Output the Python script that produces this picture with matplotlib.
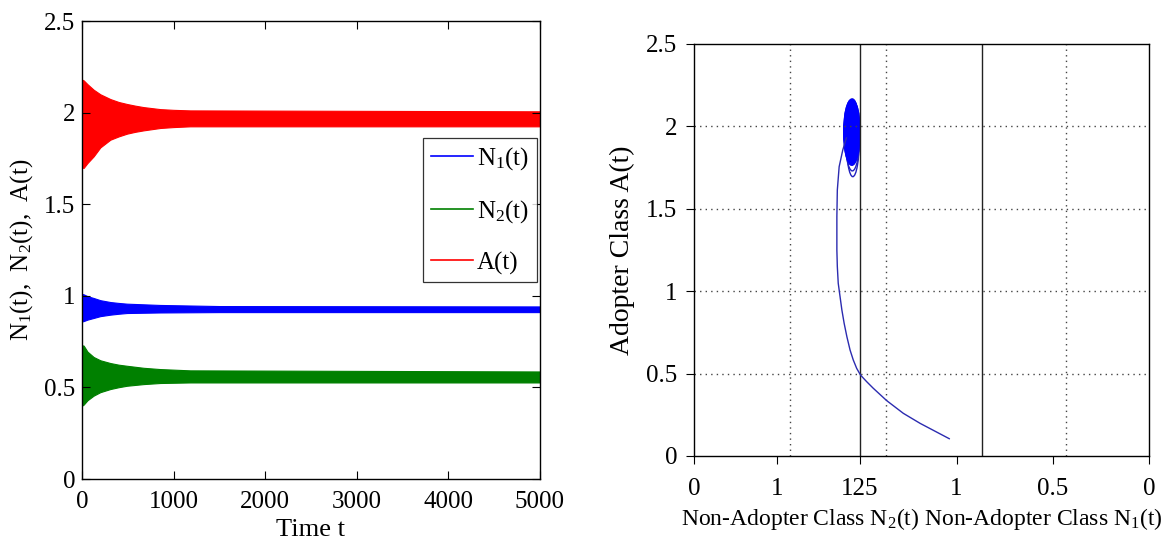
import matplotlib
matplotlib.use("Agg")
import matplotlib.pyplot as plt
from matplotlib.lines import Line2D
from matplotlib.patches import Ellipse

plt.rcParams['font.family'] = ['Liberation Serif', 'DejaVu Serif']
plt.rcParams['mathtext.default'] = 'regular'

# ---- left panel: oscillation envelopes ----
t_a = [0, 18, 60, 127, 200, 309, 400, 491, 580, 672, 854, 1000, 1181, 5000]
a_hi = [2.18, 2.176, 2.155, 2.125, 2.100, 2.074, 2.058, 2.047, 2.038, 2.030,
        2.019, 2.015, 2.012, 2.007]
a_lo = [1.70, 1.698, 1.725, 1.761, 1.810, 1.852, 1.870, 1.885, 1.895, 1.903,
        1.916, 1.921, 1.925, 1.925]

t_n1 = [0, 18, 60, 127, 200, 309, 400, 491, 854, 1500, 5000]
n1_hi = [1.01, 1.008, 0.998, 0.988, 0.976, 0.966, 0.961, 0.957, 0.950, 0.944,
         0.942]
n1_lo = [0.86, 0.862, 0.870, 0.879, 0.889, 0.897, 0.902, 0.906, 0.909, 0.911,
         0.911]

t_n2 = [0, 18, 60, 127, 200, 309, 400, 491, 672, 854, 1181, 5000]
n2_hi = [0.73, 0.728, 0.695, 0.666, 0.648, 0.633, 0.624, 0.618, 0.607, 0.600,
         0.593, 0.587]
n2_lo = [0.40, 0.406, 0.430, 0.455, 0.474, 0.491, 0.501, 0.509, 0.518, 0.524,
         0.527, 0.527]

series_names = ['N$_1$(t)', 'N$_2$(t)', 'A(t)']
series_colors = ['#0000ff', '#008000', '#ff0000']

time_ticks = [0, 1000, 2000, 3000, 4000, 5000]
level_ticks = [0, 0.5, 1, 1.5, 2, 2.5]
level_labels = ['0', '0.5', '1', '1.5', '2', '2.5']

# ---- right panel: projected phase trajectory (x = fraction of the box) ----
traj_x = [0.561, 0.497, 0.460, 0.4235, 0.394, 0.3795, 0.366, 0.3575, 0.350,
          0.343, 0.336, 0.330, 0.325, 0.321, 0.317, 0.315, 0.314, 0.314,
          0.315, 0.319, 0.327, 0.335]
traj_a = [0.105, 0.198, 0.259, 0.336, 0.411, 0.451, 0.491, 0.532, 0.583,
          0.643, 0.724, 0.805, 0.886, 0.967, 1.048, 1.149, 1.250, 1.452,
          1.614, 1.755, 1.857, 1.930]
# limit cycle rings: centre x, centre A, width, height
cycle_cx = [0.349, 0.348, 0.347]
cycle_cy = [1.930, 1.945, 1.965]
cycle_w = [0.029, 0.032, 0.036]
cycle_h = [0.470, 0.430, 0.400]

proj_ticks = [0.0, 0.183, 0.365, 0.577, 0.789, 1.0]
proj_labels = ['0', '1', '125', '1', '0.5', '0']
solid_cuts = [0.365, 0.634]
dotted_cuts = [0.212, 0.422, 0.817]
grid_levels = [0.5, 1, 1.5, 2]

W, H = 1161, 548
fig = plt.figure(figsize=(W / 100, H / 100), dpi=100)

# left axes
ax = fig.add_axes([82 / W, (H - 479) / H, 458 / W, 458 / H])
ax.fill_between(t_a, a_lo, a_hi, color=series_colors[2], lw=0.8)
ax.fill_between(t_n1, n1_lo, n1_hi, color=series_colors[0], lw=0.8)
ax.fill_between(t_n2, n2_lo, n2_hi, color=series_colors[1], lw=0.8)
ax.set_xlim(0, 5000)
ax.set_ylim(0, 2.5)
ax.set_xticks(time_ticks)
ax.set_yticks(level_ticks)
ax.set_yticklabels(level_labels)
ax.tick_params(direction='in', top=True, right=True, length=6, width=0.8,
               labelsize=18)
ax.tick_params(axis='x', pad=9)
ax.tick_params(axis='y', pad=5)
for sp in ax.spines.values():
    sp.set_linewidth(1.0)
ax.set_xlabel('Time t', fontsize=19, labelpad=4)
ax.set_ylabel('N$_1$(t),  N$_2$(t),  A(t)', fontsize=18, labelpad=6)

handles = [Line2D([], [], color=c, lw=1.2) for c in series_colors]
leg = ax.legend(handles, series_names, loc='upper right',
                bbox_to_anchor=(0.993, 0.745), fontsize=18, frameon=True,
                fancybox=False, edgecolor='black', handlelength=1.7,
                handletextpad=0.15, labelspacing=1.05, borderaxespad=0,
                borderpad=0.3)
leg.get_frame().set_linewidth(0.9)

# right axes
bx = fig.add_axes([694 / W, (H - 456) / H, 455 / W, 412 / H])
for y in grid_levels:
    bx.axhline(y, color='#444444', lw=1.0, ls=(0, (1, 3)))
for x in dotted_cuts:
    bx.axvline(x, color='#444444', lw=1.0, ls=(0, (1, 3)))
for x in solid_cuts:
    bx.axvline(x, color='#222222', lw=1.0)
bx.plot(traj_x, traj_a, color='#2b2bb0', lw=1.0)
for cx, cy, w, h in zip(cycle_cx, cycle_cy, cycle_w, cycle_h):
    bx.add_patch(Ellipse((cx, cy), w, h, fill=False, ec='#2020c0', lw=1.0))
bx.add_patch(Ellipse((cycle_cx[-1], cycle_cy[-1]), cycle_w[-1], cycle_h[-1],
                     color='#0000ff'))
bx.set_xlim(0, 1)
bx.set_ylim(0, 2.5)
bx.set_xticks(proj_ticks)
bx.set_xticklabels(proj_labels)
bx.set_yticks(level_ticks)
bx.set_yticklabels(level_labels)
bx.tick_params(direction='out', length=6, width=0.8, labelsize=18)
bx.tick_params(axis='x', pad=10)
bx.tick_params(axis='y', pad=6)
for sp in bx.spines.values():
    sp.set_linewidth(1.0)
bx.set_xlabel('Non-Adopter Class N$_2$(t) Non-Adopter Class N$_1$(t)',
              fontsize=17, labelpad=4)
bx.set_ylabel('Adopter Class A(t)', fontsize=20, labelpad=8)

fig.savefig('out.png', dpi=100)
